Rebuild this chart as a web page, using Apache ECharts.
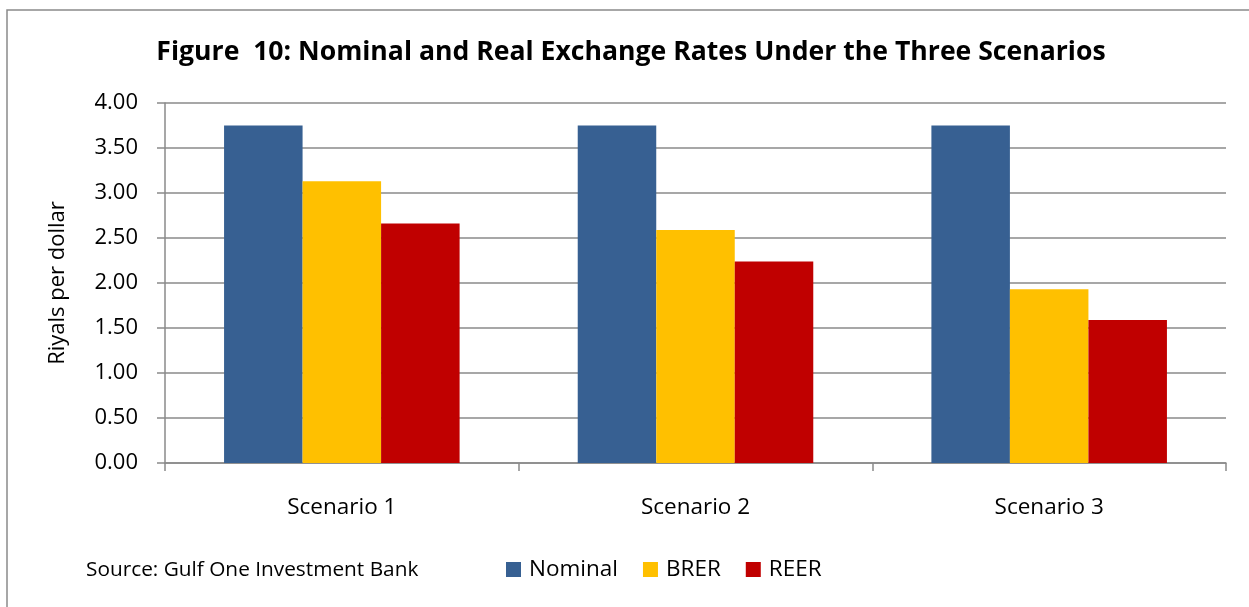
<!DOCTYPE html>
<html>
<head>
<meta charset="utf-8">
<script src="https://cdn.jsdelivr.net/npm/echarts@6/dist/echarts.min.js"></script>
<style>
  html, body { margin: 0; padding: 0; background: #fff; }
  #chart { width: 1249px; height: 607px; }
</style>
</head>
<body>
<div id="chart"></div>
<script>
// Exchange rates (riyals per US dollar) under each scenario
const categories = ['Scenario 1', 'Scenario 2', 'Scenario 3'];
const nominal = [3.75, 3.75, 3.75];
const brer = [3.13, 2.59, 1.93];
const reer = [2.66, 2.24, 1.59];
const yTicks = { min: 0, max: 4, interval: 0.5 };

const FONT = '"Open Sans", "Noto Sans", sans-serif';
const AXIS_GREY = '#8a8a8a';

const chart = echarts.init(document.getElementById('chart'), null, { renderer: 'canvas' });

chart.setOption({
  animation: false,
  backgroundColor: '#ffffff',
  textStyle: { fontFamily: FONT, color: '#000' },
  grid: { left: 165, right: 23, top: 103, bottom: 144, containLabel: false },
  legend: {
    data: ['Nominal', 'BRER', 'REER'],
    left: 506,
    top: 558,
    padding: 0,
    orient: 'horizontal',
    itemWidth: 15,
    itemHeight: 15,
    itemGap: 25,
    icon: 'rect',
    textStyle: { fontFamily: FONT, fontSize: 22.5, color: '#000', padding: [0, 0, 0, 3] }
  },
  xAxis: {
    type: 'category',
    data: categories,
    boundaryGap: true,
    axisLine: { show: true, lineStyle: { color: AXIS_GREY, width: 1.5 } },
    axisTick: { show: true, length: 8, alignWithLabel: false, lineStyle: { color: AXIS_GREY, width: 1.5 } },
    axisLabel: { margin: 33, fontFamily: FONT, fontSize: 22.5, color: '#000' },
    splitLine: { show: false }
  },
  yAxis: {
    type: 'value',
    min: yTicks.min,
    max: yTicks.max,
    interval: yTicks.interval,
    name: 'Riyals per dollar',
    nameLocation: 'middle',
    nameGap: 96,
    nameRotate: 90,
    nameTextStyle: { fontFamily: FONT, fontSize: 22, color: '#000' },
    axisLine: { show: true, lineStyle: { color: AXIS_GREY, width: 1.5 } },
    axisTick: { show: true, length: 8, lineStyle: { color: AXIS_GREY, width: 1.5 } },
    axisLabel: {
      margin: 27,
      fontFamily: FONT,
      fontSize: 22,
      color: '#000',
      formatter: v => v.toFixed(2)
    },
    splitLine: { show: true, lineStyle: { color: AXIS_GREY, width: 1.5 } }
  },
  series: [
    { name: 'Nominal', type: 'bar', data: nominal, barGap: '0%', barCategoryGap: '33.4%',
      itemStyle: { color: '#376092' } },
    { name: 'BRER', type: 'bar', data: brer, barGap: '0%', barCategoryGap: '33.4%',
      itemStyle: { color: '#FFC000' } },
    { name: 'REER', type: 'bar', data: reer, barGap: '0%', barCategoryGap: '33.4%',
      itemStyle: { color: '#C00000' } }
  ],
  graphic: [
    {
      type: 'rect',
      shape: { x: 7, y: 10, width: 1300, height: 700 },
      style: { fill: null, stroke: '#8a8a8a', lineWidth: 1.5 },
      silent: true,
      z: -1
    },
    {
      type: 'text',
      x: 631,
      y: 52,
      style: {
        text: 'Figure  10: Nominal and Real Exchange Rates Under the Three Scenarios',
        fontFamily: FONT,
        fontSize: 26.6,
        fontWeight: 'bold',
        fill: '#000',
        textAlign: 'center',
        textVerticalAlign: 'middle'
      }
    },
    {
      type: 'text',
      x: 86,
      y: 570,
      style: {
        text: 'Source: Gulf One Investment Bank',
        fontFamily: FONT,
        fontSize: 20.8,
        fill: '#000',
        textAlign: 'left',
        textVerticalAlign: 'middle'
      }
    }
  ]
});
</script>
</body>
</html>
